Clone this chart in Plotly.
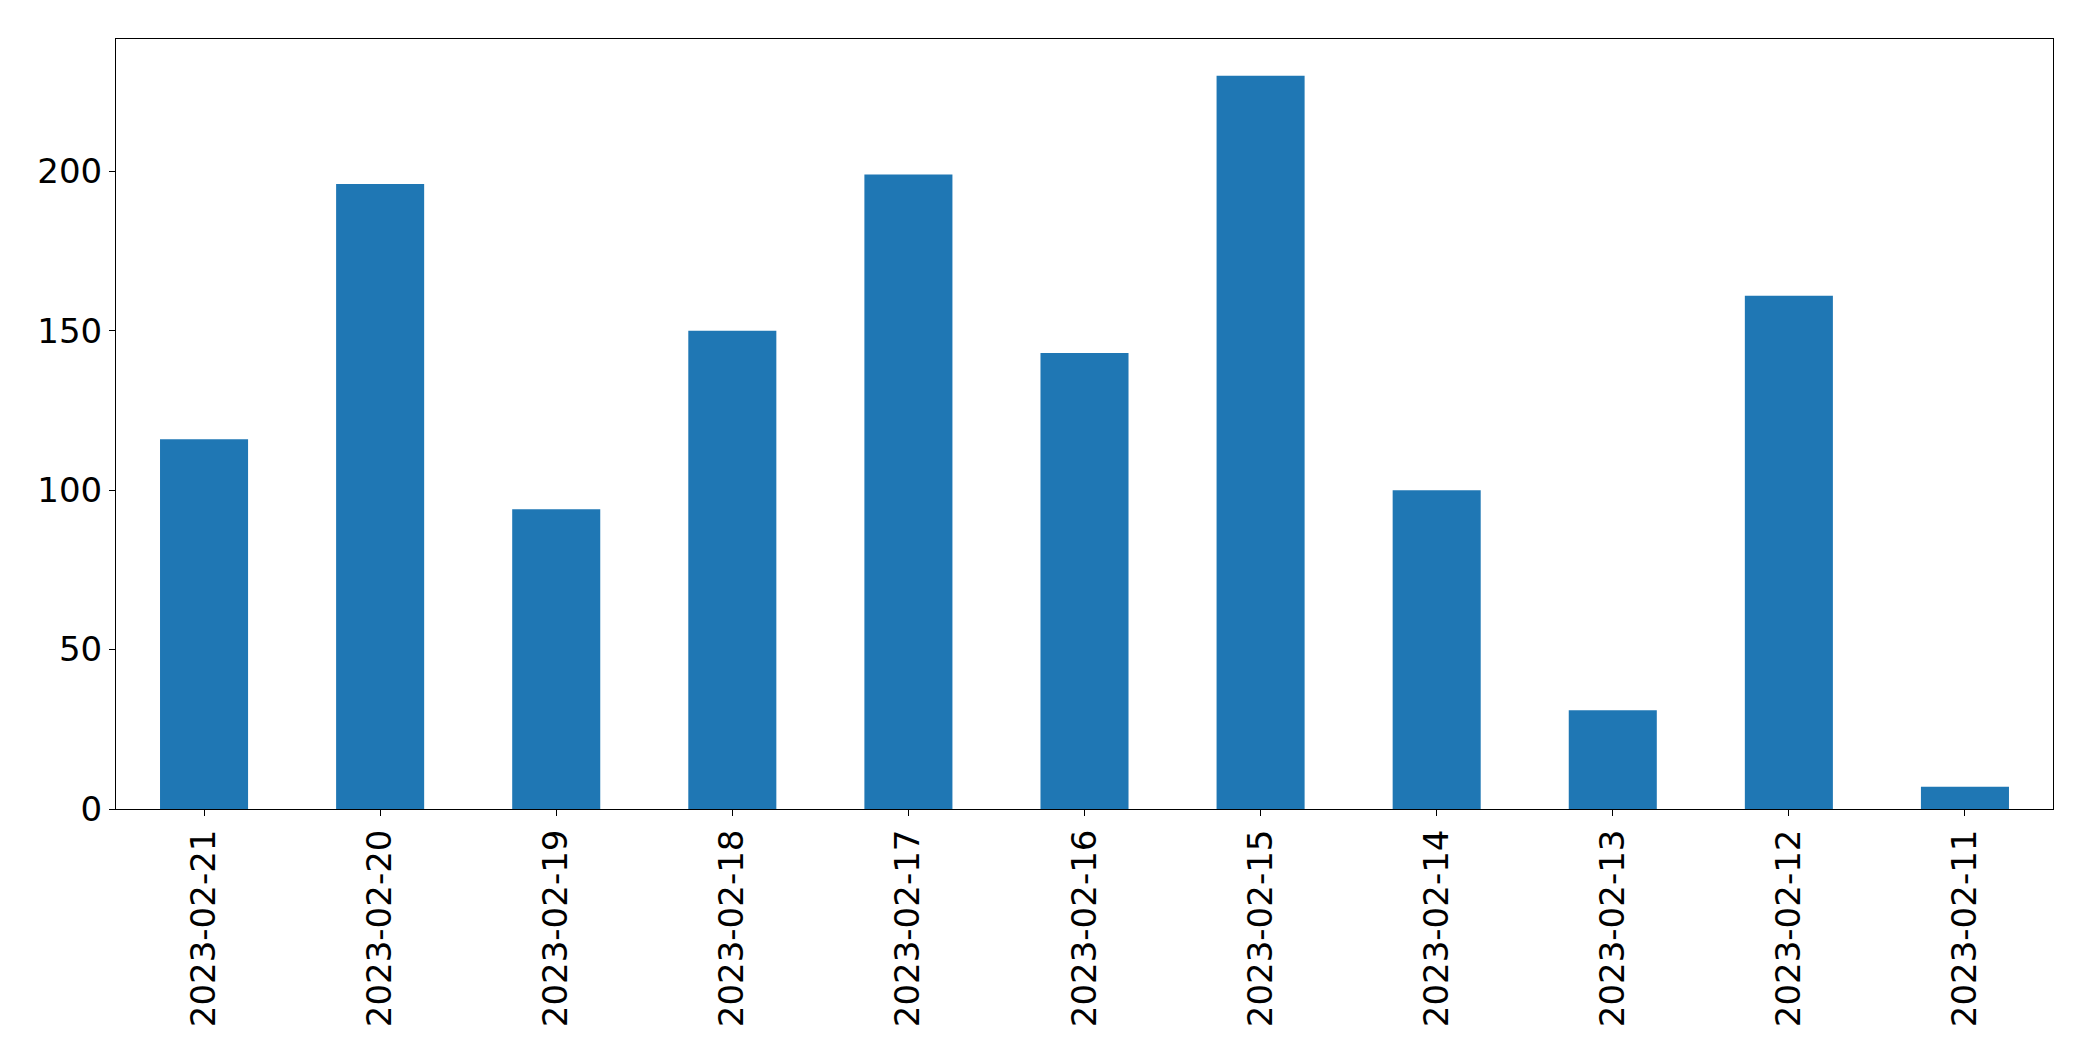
import plotly.graph_objects as go

dates = ["2023-02-21", "2023-02-20", "2023-02-19", "2023-02-18", "2023-02-17",
         "2023-02-16", "2023-02-15", "2023-02-14", "2023-02-13", "2023-02-12", "2023-02-11"]
counts = [116, 196, 94, 150, 199, 143, 230, 100, 31, 161, 7]
y_ticks = [0, 50, 100, 150, 200]

fig = go.Figure(go.Bar(x=dates, y=counts, marker=dict(color="#1f77b4", line=dict(width=0))))

fig.update_layout(
    width=2077, height=1045,
    margin=dict(l=108, r=32, t=31, b=244),
    paper_bgcolor="white", plot_bgcolor="white",
    bargap=0.5,
    showlegend=False,
    font=dict(family="DejaVu Sans", size=34, color="black"),
)
fig.update_xaxes(
    type="category", tickangle=-90,
    showline=True, mirror=True, linecolor="black", linewidth=1,
    ticks="outside", ticklen=6, tickwidth=1, tickcolor="black",
    showgrid=False, zeroline=False,
    tickfont=dict(size=34),
)
fig.update_yaxes(
    range=[0, 241.5], tickvals=y_ticks,
    showline=True, mirror=True, linecolor="black", linewidth=1,
    ticks="outside", ticklen=6, tickwidth=1, tickcolor="black",
    showgrid=False, zeroline=False,
    tickfont=dict(size=34),
)
fig.write_html("out.html")
